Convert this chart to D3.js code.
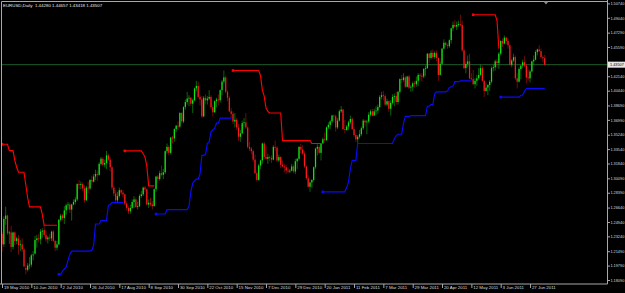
<!DOCTYPE html>
<html><head><meta charset="utf-8">
<script src="https://cdn.jsdelivr.net/npm/d3@7"></script>
<style>html,body{margin:0;padding:0;background:#000;overflow:hidden}svg{display:block}</style>
</head><body>
<svg id="chart" width="625" height="293"></svg>
<script>
// ---------- DATA ----------
const chartTitle = "EURUSD,Daily  1.44280 1.44657 1.43418 1.43507";
const firstDate = "2010-05-19";
const lastDate = "2011-07-07";
const lastPrice = 1.43507;

const open = [
1.2350,1.2230,1.2530,1.2570,1.2360,1.2370,1.2200,1.2370,1.2270,1.2300,
1.2220,1.2230,1.2170,1.1950,1.1930,1.1980,1.1990,1.2100,1.2120,1.2280,
1.2300,1.2290,1.2380,1.2400,1.2340,1.2290,1.2310,1.2300,1.2380,1.2270,
1.2190,1.2230,1.2520,1.2570,1.2540,1.2630,1.2690,1.2700,1.2640,1.2700,
1.2730,1.2760,1.2940,1.2930,1.2940,1.2890,1.2750,1.2900,1.2890,1.2990,
1.2970,1.3030,1.3060,1.3050,1.3180,1.3240,1.3170,1.3190,1.3280,1.3230,
1.3140,1.2900,1.2830,1.2750,1.2800,1.2870,1.2840,1.2820,1.2710,1.2660,
1.2620,1.2660,1.2730,1.2760,1.2670,1.2680,1.2800,1.2820,1.2900,1.2880,
1.2700,1.2720,1.2700,1.2680,1.2880,1.3030,1.3000,1.3070,1.3050,1.3080,
1.3330,1.3380,1.3310,1.3490,1.3480,1.3590,1.3630,1.3620,1.3780,1.3680,
1.3850,1.3910,1.3950,1.3960,1.3890,1.3930,1.4070,1.4100,1.3970,1.3940,
1.3740,1.3960,1.3930,1.3950,1.3970,1.3850,1.3790,1.3920,1.3940,1.3930,
1.4050,1.4150,1.4200,1.4030,1.3960,1.3800,1.3770,1.3680,1.3700,1.3610,
1.3500,1.3540,1.3660,1.3670,1.3610,1.3380,1.3360,1.3330,1.3230,1.3070,
1.2990,1.3160,1.3220,1.3420,1.3260,1.3240,1.3260,1.3250,1.3230,1.3380,
1.3370,1.3220,1.3260,1.3170,1.3150,1.3140,1.3100,1.3090,1.3100,1.3150,
1.3090,1.3210,1.3240,1.3380,1.3350,1.3300,1.3150,1.3010,1.2910,1.2960,
1.2990,1.3140,1.3360,1.3380,1.3310,1.3420,1.3470,1.3460,1.3610,1.3640,
1.3680,1.3750,1.3740,1.3610,1.3690,1.3800,1.3820,1.3590,1.3580,1.3620,
1.3670,1.3710,1.3590,1.3520,1.3470,1.3500,1.3530,1.3600,1.3690,1.3670,
1.3680,1.3760,1.3800,1.3750,1.3800,1.3810,1.3850,1.3970,1.3990,1.3980,
1.3880,1.3920,1.3830,1.3900,1.3970,1.3980,1.3910,1.4030,1.4180,1.4170,
1.4200,1.4090,1.4210,1.4080,1.4090,1.4130,1.4120,1.4160,1.4230,1.4220,
1.4210,1.4300,1.4310,1.4480,1.4430,1.4490,1.4440,1.4490,1.4430,1.4230,
1.4360,1.4540,1.4610,1.4580,1.4570,1.4640,1.4780,1.4820,1.4800,1.4820,
1.4830,1.4820,1.4520,1.4310,1.4360,1.4390,1.4190,1.4180,1.4120,1.4160,
1.4190,1.4230,1.4310,1.4160,1.4040,1.4080,1.4110,1.4150,1.4310,1.4320,
1.4390,1.4370,1.4480,1.4630,1.4600,1.4670,1.4630,1.4580,1.4350,1.4400,
1.4440,1.4190,1.4150,1.4300,1.4340,1.4380,1.4340,1.4200,1.4190,1.4270,
1.4390,1.4410,1.4500,1.4530,1.4510,1.4440,1.44280];

const high = [
1.2380,1.2560,1.2673,1.2580,1.2390,1.2450,1.2380,1.2380,1.2320,1.2340,
1.2280,1.2300,1.2190,1.1990,1.2010,1.2080,1.2120,1.2150,1.2330,1.2340,
1.2350,1.2410,1.2420,1.2455,1.2390,1.2330,1.2350,1.2390,1.2400,1.2280,
1.2270,1.2530,1.2590,1.2590,1.2680,1.2710,1.2730,1.2720,1.2710,1.2760,
1.2790,1.2950,1.2990,1.2970,1.2960,1.2930,1.2920,1.2970,1.3000,1.3040,
1.3060,1.3110,1.3100,1.3200,1.3260,1.3260,1.3230,1.3333,1.3300,1.3260,
1.3150,1.2920,1.2870,1.2850,1.2900,1.2880,1.2870,1.2830,1.2740,1.2680,
1.2700,1.2760,1.2800,1.2780,1.2730,1.2820,1.2860,1.2910,1.2920,1.2890,
1.2760,1.2780,1.2740,1.2890,1.3040,1.3050,1.3100,1.3160,1.3120,1.3340,
1.3420,1.3400,1.3500,1.3510,1.3600,1.3640,1.3680,1.3790,1.3790,1.3860,
1.3940,1.4030,1.3990,1.3970,1.3950,1.4080,1.4160,1.4150,1.3990,1.3980,
1.3980,1.4000,1.3980,1.4050,1.3990,1.3880,1.3930,1.3960,1.4000,1.4060,
1.4170,1.4282,1.4220,1.4050,1.3980,1.3840,1.3800,1.3780,1.3720,1.3650,
1.3580,1.3690,1.3720,1.3780,1.3620,1.3440,1.3380,1.3350,1.3290,1.3100,
1.3180,1.3230,1.3430,1.3440,1.3390,1.3300,1.3280,1.3280,1.3400,1.3455,
1.3390,1.3290,1.3270,1.3220,1.3180,1.3170,1.3140,1.3120,1.3180,1.3170,
1.3240,1.3250,1.3390,1.3420,1.3400,1.3330,1.3160,1.3050,1.2970,1.3000,
1.3150,1.3370,1.3410,1.3400,1.3425,1.3490,1.3550,1.3620,1.3670,1.3700,
1.3760,1.3760,1.3760,1.3720,1.3820,1.3862,1.3830,1.3700,1.3640,1.3690,
1.3750,1.3730,1.3620,1.3540,1.3520,1.3580,1.3620,1.3710,1.3700,1.3700,
1.3790,1.3820,1.3830,1.3830,1.3860,1.3880,1.3990,1.4030,1.4040,1.4000,
1.3950,1.3930,1.3930,1.4000,1.4010,1.4030,1.4040,1.4190,1.4230,1.4250,
1.4220,1.4220,1.4230,1.4110,1.4150,1.4160,1.4210,1.4250,1.4250,1.4250,
1.4310,1.4340,1.4490,1.4490,1.4520,1.4530,1.4510,1.4520,1.4440,1.4390,
1.4550,1.4650,1.4620,1.4600,1.4650,1.4790,1.4860,1.4880,1.4860,1.4870,
1.4940,1.4870,1.4540,1.4390,1.4460,1.4480,1.4250,1.4290,1.4190,1.4230,
1.4310,1.4350,1.4340,1.4170,1.4130,1.4120,1.4170,1.4330,1.4350,1.4410,
1.4420,1.4500,1.4640,1.4660,1.4695,1.4680,1.4660,1.4590,1.4420,1.4480,
1.4460,1.4250,1.4320,1.4340,1.4410,1.4450,1.4360,1.4290,1.4290,1.4400,
1.4460,1.4520,1.4540,1.4580,1.4540,1.4460,1.44657];

const low = [
1.2143,1.2200,1.2460,1.2340,1.2235,1.2140,1.2170,1.2220,1.2230,1.2110,
1.2150,1.2140,1.1960,1.1876,1.1910,1.1940,1.1960,1.2040,1.2110,1.2190,
1.2250,1.2230,1.2310,1.2310,1.2260,1.2240,1.2270,1.2270,1.2260,1.2150,
1.2160,1.2220,1.2500,1.2510,1.2470,1.2580,1.2640,1.2600,1.2510,1.2690,
1.2700,1.2740,1.2880,1.2880,1.2860,1.2722,1.2740,1.2830,1.2870,1.2930,
1.2960,1.2990,1.2980,1.3040,1.3160,1.3150,1.3140,1.3120,1.3210,1.3090,
1.2870,1.2800,1.2730,1.2720,1.2780,1.2810,1.2780,1.2690,1.2630,1.2588,
1.2590,1.2650,1.2660,1.2660,1.2640,1.2670,1.2780,1.2800,1.2850,1.2690,
1.2660,1.2680,1.2640,1.2680,1.2850,1.2950,1.2980,1.3030,1.3000,1.3060,
1.3300,1.3280,1.3290,1.3420,1.3440,1.3560,1.3580,1.3600,1.3660,1.3660,
1.3820,1.3880,1.3860,1.3860,1.3780,1.3920,1.4040,1.3950,1.3870,1.3720,
1.3730,1.3890,1.3880,1.3930,1.3830,1.3740,1.3780,1.3850,1.3870,1.3900,
1.3990,1.4130,1.4010,1.3920,1.3790,1.3720,1.3650,1.3610,1.3580,1.3450,
1.3440,1.3530,1.3620,1.3590,1.3360,1.3330,1.3290,1.3200,1.3060,1.2968,
1.2980,1.3120,1.3180,1.3230,1.3230,1.3180,1.3210,1.3190,1.3220,1.3330,
1.3200,1.3200,1.3130,1.3140,1.3080,1.3060,1.3070,1.3070,1.3090,1.3070,
1.3060,1.3120,1.3220,1.3300,1.3280,1.3130,1.2990,1.2900,1.2850,1.2900,
1.2970,1.3120,1.3280,1.3290,1.3220,1.3420,1.3430,1.3450,1.3590,1.3590,
1.3660,1.3670,1.3560,1.3590,1.3680,1.3780,1.3580,1.3540,1.3570,1.3580,
1.3650,1.3580,1.3500,1.3440,1.3420,1.3480,1.3510,1.3580,1.3620,1.3530,
1.3660,1.3740,1.3740,1.3745,1.3760,1.3770,1.3840,1.3940,1.3930,1.3860,
1.3860,1.3790,1.3750,1.3880,1.3860,1.3880,1.3880,1.4010,1.4130,1.4150,
1.4080,1.4080,1.4060,1.4030,1.4040,1.4080,1.4090,1.4100,1.4170,1.4150,
1.4190,1.4220,1.4300,1.4370,1.4410,1.4420,1.4420,1.4390,1.4160,1.4220,
1.4350,1.4530,1.4560,1.4540,1.4550,1.4600,1.4750,1.4790,1.4760,1.4800,
1.4800,1.4500,1.4300,1.4250,1.4320,1.4180,1.4170,1.4110,1.4070,1.4100,
1.4170,1.4220,1.4150,1.3968,1.4030,1.3990,1.4040,1.4130,1.4270,1.4280,
1.4310,1.4300,1.4460,1.4560,1.4590,1.4590,1.4540,1.4340,1.4320,1.4380,
1.4170,1.4070,1.4140,1.4180,1.4310,1.4320,1.4130,1.4160,1.4140,1.4260,
1.4350,1.4400,1.4460,1.4500,1.4420,1.4380,1.43418];

const close = [
1.2230,1.2530,1.2570,1.2360,1.2370,1.2200,1.2370,1.2270,1.2300,1.2220,
1.2230,1.2170,1.1970,1.1930,1.1980,1.1990,1.2100,1.2110,1.2280,1.2300,
1.2290,1.2380,1.2390,1.2340,1.2290,1.2310,1.2300,1.2380,1.2270,1.2190,
1.2230,1.2520,1.2570,1.2540,1.2630,1.2690,1.2700,1.2640,1.2700,1.2730,
1.2760,1.2940,1.2930,1.2940,1.2890,1.2750,1.2900,1.2890,1.2990,1.2970,
1.3030,1.3060,1.3050,1.3180,1.3240,1.3170,1.3190,1.3280,1.3230,1.3140,
1.2900,1.2830,1.2750,1.2800,1.2870,1.2840,1.2820,1.2710,1.2660,1.2620,
1.2660,1.2730,1.2760,1.2670,1.2680,1.2800,1.2820,1.2900,1.2880,1.2700,
1.2720,1.2700,1.2680,1.2880,1.3030,1.3000,1.3070,1.3050,1.3080,1.3330,
1.3380,1.3310,1.3490,1.3480,1.3590,1.3630,1.3620,1.3780,1.3680,1.3850,
1.3910,1.3950,1.3960,1.3890,1.3930,1.4070,1.4100,1.3970,1.3940,1.3740,
1.3960,1.3930,1.3950,1.3970,1.3850,1.3790,1.3920,1.3940,1.3930,1.4050,
1.4150,1.4200,1.4030,1.3960,1.3800,1.3770,1.3680,1.3700,1.3610,1.3500,
1.3540,1.3660,1.3670,1.3610,1.3380,1.3360,1.3330,1.3230,1.3070,1.2990,
1.3160,1.3220,1.3420,1.3260,1.3240,1.3260,1.3250,1.3230,1.3380,1.3370,
1.3220,1.3260,1.3170,1.3150,1.3140,1.3100,1.3090,1.3100,1.3150,1.3090,
1.3210,1.3240,1.3380,1.3350,1.3300,1.3150,1.3010,1.2910,1.2960,1.2990,
1.3140,1.3360,1.3380,1.3310,1.3420,1.3470,1.3460,1.3610,1.3640,1.3680,
1.3750,1.3740,1.3610,1.3690,1.3800,1.3820,1.3590,1.3580,1.3620,1.3670,
1.3710,1.3590,1.3520,1.3470,1.3500,1.3530,1.3600,1.3690,1.3670,1.3680,
1.3760,1.3800,1.3750,1.3800,1.3810,1.3850,1.3970,1.3990,1.3980,1.3880,
1.3920,1.3830,1.3900,1.3970,1.3980,1.3910,1.4030,1.4180,1.4170,1.4200,
1.4090,1.4210,1.4080,1.4090,1.4130,1.4120,1.4160,1.4230,1.4220,1.4210,
1.4300,1.4310,1.4480,1.4430,1.4490,1.4440,1.4490,1.4430,1.4230,1.4360,
1.4540,1.4610,1.4580,1.4570,1.4640,1.4780,1.4820,1.4800,1.4820,1.4830,
1.4820,1.4520,1.4310,1.4360,1.4390,1.4190,1.4180,1.4120,1.4160,1.4190,
1.4230,1.4310,1.4160,1.4040,1.4080,1.4110,1.4150,1.4310,1.4320,1.4390,
1.4370,1.4480,1.4630,1.4600,1.4670,1.4630,1.4580,1.4350,1.4400,1.4440,
1.4190,1.4150,1.4300,1.4340,1.4380,1.4340,1.4200,1.4190,1.4270,1.4390,
1.4410,1.4500,1.4530,1.4510,1.4440,1.4428,1.43507];

// Channel levels: [first date of the level, level] ; null = line not shown
const upperSteps = [
["2010-05-19",1.3411],["2010-05-25",1.3336],["2010-05-28",1.3220],["2010-05-31",1.3140],
["2010-06-01",1.3081],["2010-06-07",1.2930],["2010-06-08",1.2780],["2010-06-09",1.2673],
["2010-06-18",1.2580],["2010-06-21",1.2455],["2010-07-01",null],
["2010-08-20",1.3333],["2010-09-03",1.3300],["2010-09-06",1.3260],["2010-09-07",1.3150],
["2010-09-08",1.2920],["2010-09-14",null],
["2010-11-11",1.4282],["2010-12-02",1.4220],["2010-12-03",1.4050],["2010-12-06",1.3980],
["2010-12-07",1.3840],["2010-12-08",1.3800],["2010-12-09",1.3780],["2010-12-20",1.3455],
["2011-01-11",1.3420],["2011-01-19",null],
["2011-05-13",1.4940],["2011-06-01",1.4870],["2011-06-02",1.4540],["2011-06-03",null]];

const lowerSteps = [
["2010-07-01",1.1876],["2010-07-05",1.1910],["2010-07-06",1.1940],["2010-07-07",1.1960],
["2010-07-08",1.2040],["2010-07-09",1.2110],["2010-07-12",1.2150],["2010-07-27",1.2160],
["2010-07-28",1.2220],["2010-07-29",1.2470],["2010-08-03",1.2510],["2010-08-09",1.2690],
["2010-08-10",1.2700],["2010-08-11",1.2722],["2010-08-20",null],
["2010-09-14",1.2588],["2010-09-21",1.2590],["2010-09-22",1.2640],["2010-10-08",1.2680],
["2010-10-11",1.2850],["2010-10-12",1.2950],["2010-10-13",1.2980],["2010-10-14",1.3000],
["2010-10-18",1.3060],["2010-10-19",1.3280],["2010-10-21",1.3290],["2010-10-22",1.3420],
["2010-10-25",1.3440],["2010-10-26",1.3560],["2010-10-27",1.3580],["2010-10-28",1.3600],
["2010-10-29",1.3660],["2010-11-02",1.3720],["2010-11-11",null],
["2011-01-19",1.2850],["2011-02-07",1.2900],["2011-02-08",1.2970],["2011-02-09",1.3120],
["2011-02-10",1.3220],["2011-02-15",1.3420],["2011-03-15",1.3480],["2011-03-16",1.3510],
["2011-03-17",1.3530],["2011-03-22",1.3660],["2011-03-23",1.3740],["2011-03-28",1.3750],
["2011-04-08",1.3860],["2011-04-12",1.3880],["2011-04-14",1.4010],["2011-04-15",1.4030],
["2011-04-25",1.4040],["2011-04-26",1.4080],["2011-04-27",1.4090],["2011-04-28",1.4100],
["2011-04-29",1.4150],["2011-05-04",1.4160],["2011-05-13",null],
["2011-06-03",1.3968],["2011-06-20",1.3990],["2011-06-22",1.4040],["2011-06-23",1.4070]];

const priceTicks = [1.50740,1.49040,1.47290,1.45590,1.43840,1.42140,1.40440,1.38690,1.36990,1.35240,
  1.33540,1.31840,1.30090,1.28390,1.26640,1.24940,1.23240,1.21490,1.19790,1.18090];

const dateTicks = ["2010-05-19","2010-06-10","2010-07-02","2010-07-26","2010-08-17","2010-09-08",
  "2010-09-30","2010-10-22","2010-11-15","2010-12-07","2010-12-29","2011-01-20","2011-02-11",
  "2011-03-07","2011-03-29","2011-04-20","2011-05-12","2011-06-03","2011-06-27"];
const dateTickLabels = ["19 May 2010","10 Jun 2010","2 Jul 2010","26 Jul 2010","17 Aug 2010","8 Sep 2010",
  "30 Sep 2010","22 Oct 2010","15 Nov 2010","7 Dec 2010","29 Dec 2010","20 Jan 2011","11 Feb 2011",
  "7 Mar 2011","29 Mar 2011","20 Apr 2011","12 May 2011","3 Jun 2011","27 Jun 2011"];

// ---------- DRAW ----------
const W = 625, H = 293;
const plotL = 1.5, plotR = 607.5, plotT = 1.5, plotB = 284;
const FONT = "'Liberation Sans', Arial, sans-serif";
const FS = 4.4, FS_AXIS = 3.85;
const bullColor = "#12e612", bearColor = "#ff1a1a";

const parse = d3.utcParse("%Y-%m-%d"), fmt = d3.utcFormat("%Y-%m-%d");
const dates = d3.utcDay.range(parse(firstDate), d3.utcDay.offset(parse(lastDate), 1))
  .filter(d => d.getUTCDay() % 6 !== 0).map(fmt);

const bars = dates.map((d, i) => ({date: d, o: open[i], h: high[i], l: low[i], c: close[i]}));

function expand(steps) {
  let si = 0, cur = null;
  return dates.map(d => {
    while (si < steps.length && steps[si][0] <= d) { cur = steps[si][1]; si++; }
    return {date: d, v: cur};
  });
}
const upper = expand(upperSteps), lower = expand(lowerSteps);

const svg = d3.select("#chart");
svg.append("rect").attr("width", W).attr("height", H).attr("fill", "#000");

const x = d3.scalePoint().domain(dates).range([2, 544.7]);
const y = d3.scaleLinear().domain([priceTicks[priceTicks.length - 1], priceTicks[0]]).range([280, 3.4]);

svg.append("clipPath").attr("id", "plot").append("rect")
  .attr("x", plotL).attr("y", plotT).attr("width", plotR - plotL).attr("height", plotB - plotT);

const g = svg.append("g").attr("clip-path", "url(#plot)");

// current price line
g.append("line").attr("x1", plotL).attr("x2", plotR)
  .attr("y1", y(lastPrice)).attr("y2", y(lastPrice))
  .attr("stroke", "#1d5a2c").attr("stroke-width", 1);

// candles
const cg = g.append("g");
cg.selectAll("line.wick").data(bars).join("line").attr("class", "wick")
  .attr("x1", d => x(d.date)).attr("x2", d => x(d.date))
  .attr("y1", d => y(d.h)).attr("y2", d => y(d.l))
  .attr("stroke", d => d.c >= d.o ? bullColor : bearColor)
  .attr("stroke-width", 0.55).attr("stroke-opacity", 0.8);
cg.selectAll("rect.body").data(bars).join("rect").attr("class", "body")
  .attr("x", d => x(d.date) - 0.62).attr("width", 1.24)
  .attr("y", d => y(Math.max(d.o, d.c)))
  .attr("height", d => Math.max(0.6, Math.abs(y(d.o) - y(d.c))))
  .attr("fill", d => d.c >= d.o ? bullColor : bearColor);

// channel lines
function drawBand(data, color) {
  const line = d3.line().defined(d => d.v != null).x(d => x(d.date)).y(d => y(d.v));
  g.append("path").datum(data).attr("d", line).attr("fill", "none")
    .attr("stroke", color).attr("stroke-width", 1.15);
  const starts = data.filter((d, i) => d.v != null && (i === 0 || data[i - 1].v == null));
  g.selectAll(null).data(starts).join("rect")
    .attr("x", d => x(d.date) - 1.3).attr("y", d => y(d.v) - 1.3)
    .attr("width", 2.6).attr("height", 2.6).attr("fill", color);
}
drawBand(upper, "#ff0000");
drawBand(lower, "#0a0aff");

// frame
const frame = svg.append("g").attr("stroke", "#a8a8a8").attr("stroke-width", 1);
frame.append("line").attr("x1", plotL).attr("x2", plotR).attr("y1", plotT).attr("y2", plotT);
frame.append("line").attr("x1", plotL).attr("x2", plotL).attr("y1", plotT).attr("y2", plotB);
frame.append("line").attr("x1", plotR).attr("x2", plotR).attr("y1", 0).attr("y2", plotB);
frame.append("line").attr("x1", 0).attr("x2", plotR).attr("y1", plotB).attr("y2", plotB);

// price axis
const py = y(lastPrice);
const yAxis = d3.axisRight(y).tickValues(priceTicks).tickSize(2.5).tickSizeOuter(0)
  .tickFormat(d3.format(".5f"));
const ya = svg.append("g").attr("transform", `translate(${plotR},0)`).call(yAxis);
ya.select(".domain").remove();
ya.selectAll(".tick line").attr("stroke", "#a8a8a8");
ya.selectAll(".tick text").attr("x", 2.9).attr("fill", "#dcdcdc")
  .style("font-family", FONT).style("font-size", FS_AXIS + "px");
// label hidden under the current-price box
ya.selectAll(".tick").filter(d => Math.abs(y(d) - py) < 5).select("text").remove();

// date axis
const xAxis = d3.axisBottom(x).tickValues(dateTicks).tickSize(4).tickSizeOuter(0)
  .tickFormat((d, i) => dateTickLabels[i]);
const xa = svg.append("g").attr("transform", `translate(0,${plotB})`).call(xAxis);
xa.select(".domain").remove();
xa.selectAll(".tick line").attr("stroke", "#a8a8a8");
xa.selectAll(".tick text").attr("text-anchor", "start").attr("x", 1.4).attr("y", 2.2)
  .attr("fill", "#dcdcdc").style("font-family", FONT).style("font-size", FS + "px");

// current price label
svg.append("rect").attr("x", plotR + 0.5).attr("y", py - 3).attr("width", W - plotR).attr("height", 6)
  .attr("fill", "#e6e6e6");
svg.append("text").attr("x", plotR + 2.5).attr("y", py + 1.4).text(d3.format(".5f")(lastPrice))
  .attr("fill", "#000").style("font-family", FONT).style("font-size", FS_AXIS + "px");

// title
svg.append("text").attr("x", 3).attr("y", 7).text(chartTitle)
  .attr("fill", "#e6e6e6").style("font-family", FONT).style("font-size", FS + "px")
  .style("white-space", "pre");

// chart shift marker
svg.append("path").attr("d", "M543.5,1.5L548.5,1.5L546,4.5Z").attr("fill", "#8a8a8a");
</script>
</body></html>
